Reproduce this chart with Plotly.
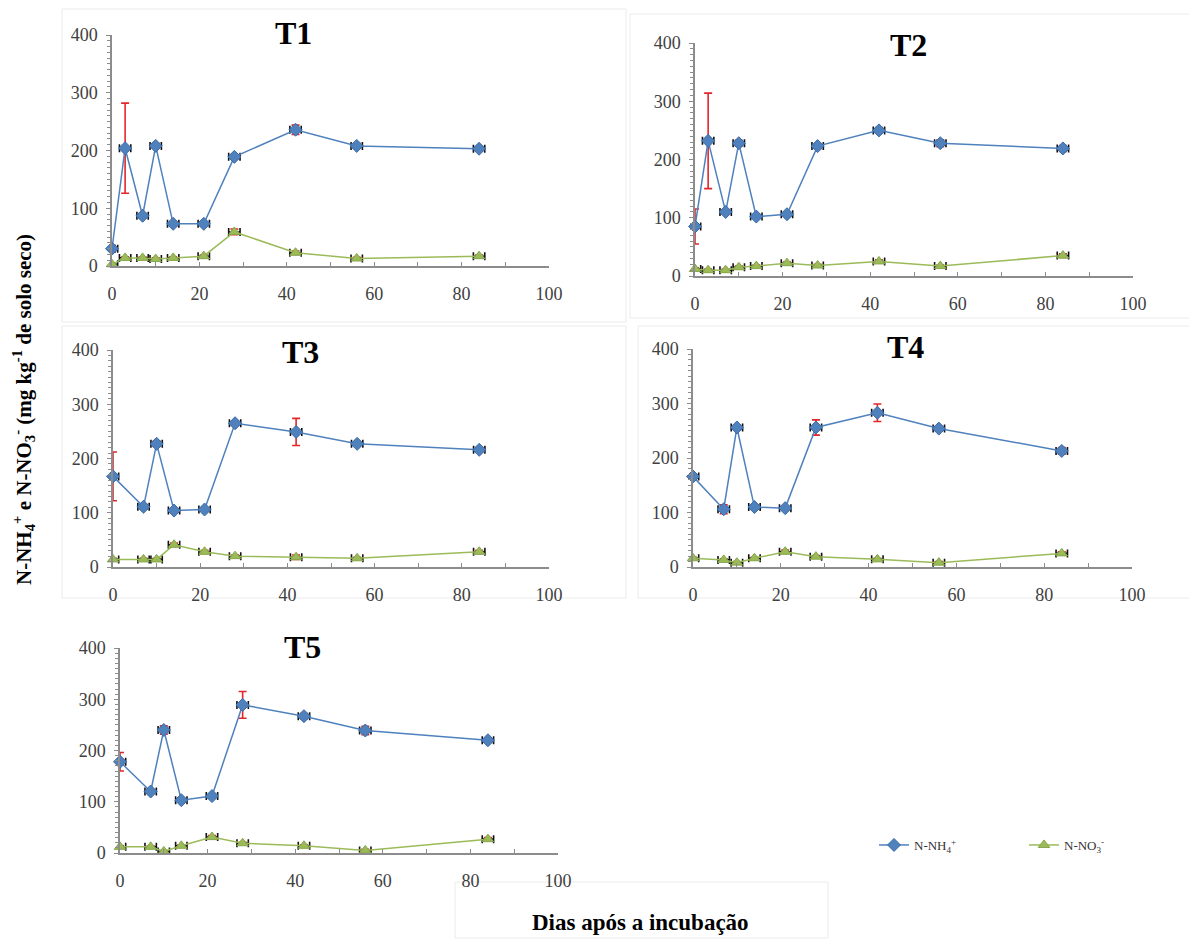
import plotly.graph_objects as go

# ---------------- data ----------------
days_T1 = [0, 3, 7, 10, 14, 21, 28, 42, 56, 84]
nh4_T1 = [30, 204, 87, 208, 73, 73, 189, 236, 208, 203]
nh4_T1_err = [6, 78, 4, 4, 3, 3, 4, 8, 4, 4]
no3_T1 = [3, 14, 14, 12, 14, 17, 59, 23, 13, 17]
no3_T1_err = [2, 2, 2, 2, 2, 2, 5, 3, 2, 2]

days_T2 = [0, 3, 7, 10, 14, 21, 28, 42, 56, 84]
nh4_T2 = [85, 232, 110, 228, 102, 106, 223, 250, 228, 219]
nh4_T2_err = [30, 82, 4, 5, 3, 3, 4, 5, 6, 5]
no3_T2 = [12, 10, 10, 15, 17, 22, 18, 25, 17, 35]
no3_T2_err = [2, 2, 2, 2, 2, 2, 2, 3, 2, 3]

days_T3 = [0, 7, 10, 14, 21, 28, 42, 56, 84]
nh4_T3 = [167, 111, 227, 104, 106, 265, 249, 227, 216]
nh4_T3_err = [45, 4, 5, 3, 3, 4, 25, 4, 4]
no3_T3 = [14, 14, 14, 41, 28, 20, 18, 16, 28]
no3_T3_err = [2, 2, 2, 3, 3, 2, 4, 2, 3]

days_T4 = [0, 7, 10, 14, 21, 28, 42, 56, 84]
nh4_T4 = [166, 106, 256, 110, 108, 256, 283, 254, 213]
nh4_T4_err = [5, 8, 4, 3, 3, 14, 16, 4, 6]
no3_T4 = [16, 13, 8, 16, 28, 19, 14, 8, 25]
no3_T4_err = [2, 2, 2, 2, 3, 2, 2, 2, 3]

days_T5 = [0, 7, 10, 14, 21, 28, 42, 56, 84]
nh4_T5 = [178, 120, 240, 103, 111, 289, 267, 239, 220]
nh4_T5_err = [18, 4, 8, 3, 3, 26, 5, 8, 4]
no3_T5 = [12, 12, 3, 14, 31, 19, 14, 5, 27]
no3_T5_err = [2, 2, 2, 2, 3, 2, 2, 2, 3]

x_err_days = 1.3  # half-width of the small black horizontal bars

panel_titles = ["T1", "T2", "T3", "T4", "T5"]
series_names = ["N-NH<sub>4</sub><sup>+</sup>", "N-NO<sub>3</sub><sup>-</sup>"]
x_ticks = [0, 20, 40, 60, 80, 100]
y_ticks = [0, 100, 200, 300, 400]

panels = [
    (days_T1, nh4_T1, nh4_T1_err, no3_T1, no3_T1_err),
    (days_T2, nh4_T2, nh4_T2_err, no3_T2, no3_T2_err),
    (days_T3, nh4_T3, nh4_T3_err, no3_T3, no3_T3_err),
    (days_T4, nh4_T4, nh4_T4_err, no3_T4, no3_T4_err),
    (days_T5, nh4_T5, nh4_T5_err, no3_T5, no3_T5_err),
]

# ---------------- layout geometry (pixels of the 1197x939 page) ----------------
OFF = 8                      # page body margin in the browser
W, H = 1197 - OFF, 939 - OFF  # figure size


def px(x):
    return (x - OFF) / W


def py(y):
    return 1 - (y - OFF) / H


# (left, right, top, bottom) of each plot area in page pixels
boxes = [
    (112, 549, 35, 266),
    (695, 1133, 43, 276),
    (113, 549, 350, 567),
    (693, 1132, 349, 567),
    (120, 558, 648, 853),
]
title_pos = [(293, 33), (908, 45), (300, 352), (905, 347), (302, 647)]

BLUE = "#4f81bd"
GREEN = "#9bbb59"
RED = "#e3262b"
AXIS = "#8c8c8c"
SERIF = "Liberation Serif, Times New Roman, serif"

fig = go.Figure()
layout = {}
for i, (days, nh4, nh4e, no3, no3e) in enumerate(panels):
    k = "" if i == 0 else str(i + 1)
    xa, ya = "x" + k, "y" + k
    l, r, t, b = boxes[i]
    layout["xaxis" + k] = dict(
        domain=[px(l), px(r)], anchor=ya, range=[0, 100],
        tickvals=x_ticks, showline=True, linecolor=AXIS, linewidth=1.5,
        ticks="inside", ticklen=4, tickcolor=AXIS, tickwidth=1,
        minor=dict(dtick=10, tick0=0, ticks="inside", ticklen=4, tickcolor=AXIS),
        showgrid=False, zeroline=False, fixedrange=True, automargin=False,
        tickfont=dict(family=SERIF, size=18, color="#404040"),
        ticklabelstandoff=11,
    )
    layout["yaxis" + k] = dict(
        domain=[py(b), py(t)], anchor=xa, range=[0, 400],
        tickvals=y_ticks, showline=True, linecolor=AXIS, linewidth=1.5,
        ticks="outside", ticklen=4, tickcolor=AXIS, tickwidth=1,
        minor=dict(dtick=10, tick0=0, ticks="outside", ticklen=3, tickcolor=AXIS),
        showgrid=False, zeroline=False, fixedrange=True, automargin=False,
        tickfont=dict(family=SERIF, size=18, color="#404040"),
        ticklabelstandoff=5,
    )
    fig.add_trace(go.Scatter(
        x=days, y=nh4, xaxis=xa, yaxis=ya, mode="lines+markers",
        name=series_names[0], showlegend=(i == 0), legendgroup="nh4",
        line=dict(color=BLUE, width=1.5),
        marker=dict(symbol="diamond", size=10, color=BLUE,
                    line=dict(color="#3a6aa8", width=1)),
        error_y=dict(type="data", array=nh4e, color=RED, thickness=1.6, width=4),
        error_x=dict(type="constant", value=x_err_days, color="#111111",
                     thickness=1.6, width=4),
        cliponaxis=False,
    ))
    fig.add_trace(go.Scatter(
        x=days, y=no3, xaxis=xa, yaxis=ya, mode="lines+markers",
        name=series_names[1], showlegend=(i == 0), legendgroup="no3",
        line=dict(color=GREEN, width=1.5),
        marker=dict(symbol="triangle-up", size=10, color=GREEN,
                    line=dict(color="#86a64a", width=1)),
        error_y=dict(type="data", array=no3e, color=RED, thickness=1.6, width=4),
        error_x=dict(type="constant", value=x_err_days, color="#111111",
                     thickness=1.6, width=4),
        cliponaxis=False,
    ))

annotations = []
for i, name in enumerate(panel_titles):
    cx, cy = title_pos[i]
    annotations.append(dict(
        text="<b>%s</b>" % name, x=px(cx), y=py(cy), xref="paper", yref="paper",
        showarrow=False, xanchor="center", yanchor="middle",
        font=dict(family=SERIF, size=32, color="black"),
    ))

annotations.append(dict(
    text="<b>N-NH<sub>4</sub><sup>+</sup> e N-NO<sub>3</sub><sup>-</sup> (mg kg<sup>-1</sup> de solo seco)</b>",
    x=px(23), y=py(410), xref="paper", yref="paper", showarrow=False,
    textangle=-90, xanchor="center", yanchor="middle",
    font=dict(family=SERIF, size=21, color="black"),
))
annotations.append(dict(
    text="<b>Dias após a incubação</b>",
    x=px(640), y=py(922), xref="paper", yref="paper", showarrow=False,
    xanchor="center", yanchor="middle",
    font=dict(family=SERIF, size=23, color="black"),
))

faint = "#ebebeb"
shape_boxes = [
    (62, 626, 9, 322), (630, 1195, 14, 318), (62, 626, 326, 598),
    (638, 1195, 326, 598), (455, 828, 882, 938),
]
shapes = []
for (x0, x1, y0, y1) in shape_boxes:
    shapes.append(dict(type="rect", xref="paper", yref="paper",
                       x0=px(x0), x1=px(x1), y0=py(y1), y1=py(y0),
                       line=dict(color=faint, width=1), fillcolor="rgba(0,0,0,0)",
                       layer="below"))

fig.update_layout(
    **layout,
    width=W, height=H,
    margin=dict(l=0, r=0, t=0, b=0, pad=0, autoexpand=False),
    paper_bgcolor="white", plot_bgcolor="white",
    annotations=annotations, shapes=shapes,
    legend=dict(orientation="h", x=px(874), y=py(845),
                xanchor="left", yanchor="middle",
                entrywidth=105, entrywidthmode="pixels",
                font=dict(family=SERIF, size=13, color="#333333"),
                bgcolor="rgba(0,0,0,0)"),
)

fig.write_html("out.html")
